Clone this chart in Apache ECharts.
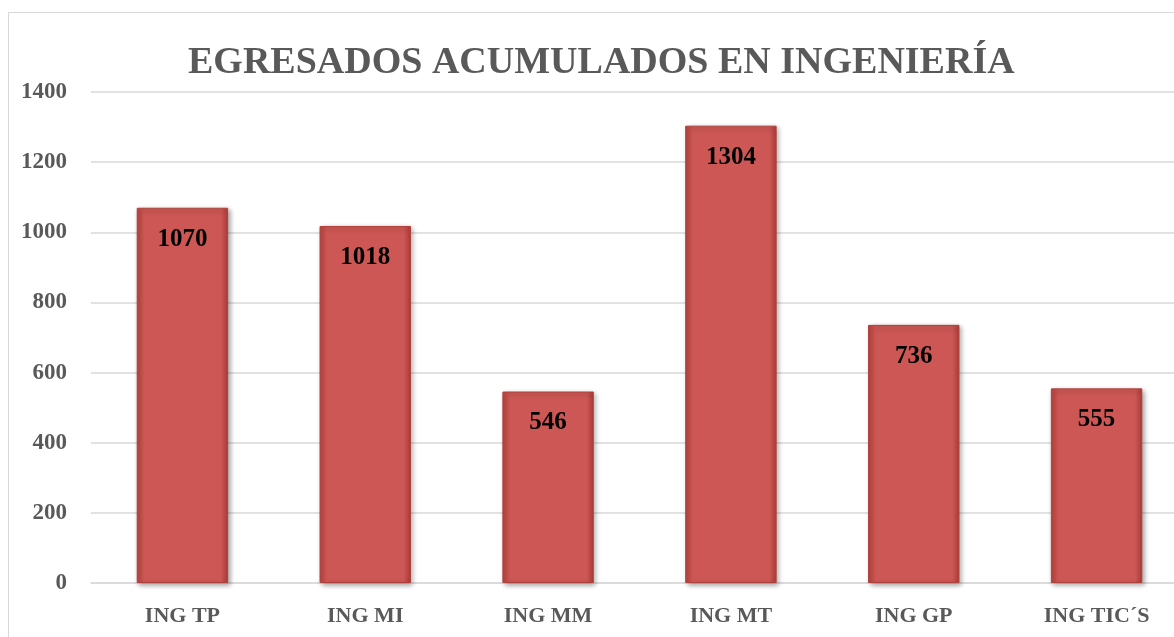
<!DOCTYPE html>
<html>
<head>
<meta charset="utf-8">
<script src="https://cdn.jsdelivr.net/npm/echarts@6/dist/echarts.min.js"></script>
<style>
  html, body { margin: 0; padding: 0; background: #fff; }
  #frame { position: absolute; left: 8px; top: 12px; width: 1180px; height: 640px; border: 1px solid #d9d9d9; }
  #chart { width: 1174px; height: 637px; }
</style>
</head>
<body>
<div id="frame"></div>
<div id="chart"></div>
<script>
// datos del gráfico
const categorias = ['ING TP', 'ING MI', 'ING MM', 'ING MT', 'ING GP', 'ING TIC´S'];
const egresados = [1070, 1018, 546, 1304, 736, 555];
const tituloTexto = 'EGRESADOS ACUMULADOS EN INGENIERÍA';

const fuente = '"Liberation Serif", "DejaVu Serif", serif';

let myChart = echarts.init(document.getElementById('chart'));
let option = {
    animation: false,
    title: {
        text: tituloTexto,
        left: 183,
        top: 39,
        textStyle: {
            fontFamily: fuente,
            fontWeight: 'bold',
            fontSize: 38,
            color: '#595959'
        }
    },
    grid: {
        left: 91,
        right: -14,
        top: 92,
        bottom: 54,
        containLabel: false,
        outerBoundsMode: 'none'
    },
    xAxis: {
        type: 'category',
        data: categorias,
        axisLine: { lineStyle: { color: '#d9d9d9', width: 1.5 } },
        axisTick: { show: false },
        axisLabel: {
            margin: 22,
            fontFamily: fuente,
            fontWeight: 'bold',
            fontSize: 22,
            color: '#595959'
        }
    },
    yAxis: {
        type: 'value',
        min: 0,
        max: 1400,
        interval: 200,
        axisLine: { show: false },
        axisTick: { show: false },
        splitLine: { lineStyle: { color: '#d9d9d9', width: 1.5 } },
        axisLabel: {
            margin: 24,
            formatter: function (v) { return String(v); },
            fontFamily: fuente,
            fontWeight: 'bold',
            fontSize: 23,
            color: '#595959'
        }
    },
    series: [
        {
            type: 'bar',
            data: egresados,
            barWidth: '50%',
            itemStyle: {
                color: new echarts.graphic.LinearGradient(0, 0, 1, 0, [
                    { offset: 0, color: '#b8433f' },
                    { offset: 0.08, color: '#cd5754' },
                    { offset: 0.92, color: '#cd5754' },
                    { offset: 1, color: '#a93c39' }
                ]),
                borderColor: '#b0403d',
                borderWidth: 1,
                shadowColor: 'rgba(0,0,0,0.35)',
                shadowBlur: 5,
                shadowOffsetX: 2,
                shadowOffsetY: 2
            },
            label: {
                show: true,
                position: 'insideTop',
                distance: 19,
                fontFamily: fuente,
                fontWeight: 'bold',
                fontSize: 25,
                color: '#000'
            }
        }
    ]
};
myChart.setOption(option);
</script>
</body>
</html>
